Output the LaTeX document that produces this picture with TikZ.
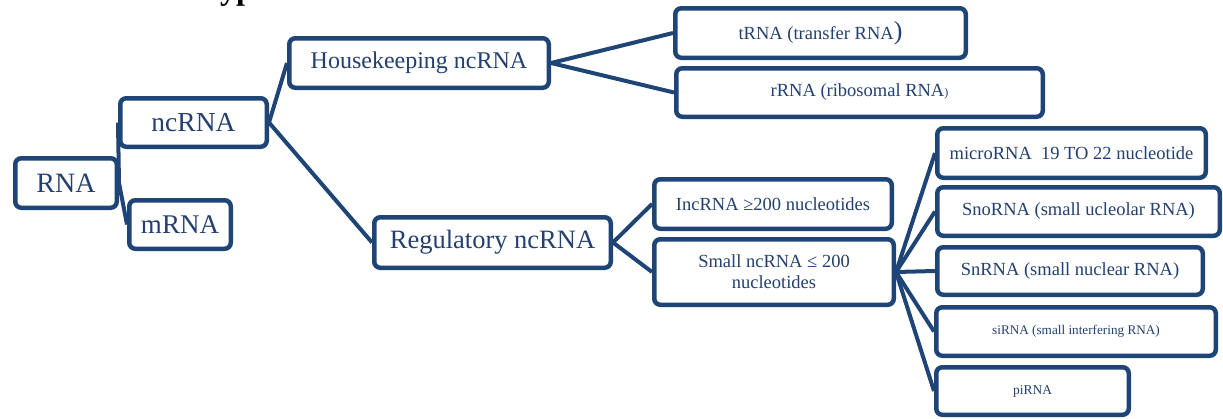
\documentclass[tikz,border=0pt]{standalone}
\usepackage{fontspec}
\setmainfont{Liberation Serif}
\definecolor{bordc}{RGB}{31,69,119}
\definecolor{txtc}{RGB}{35,64,112}
\newcommand{\myfs}[2]{\fontsize{#1}{#2}\selectfont}
\tikzset{
  box/.style={draw=bordc, line width=4.5pt, rounded corners=6pt, text=txtc,
    inner sep=0pt, align=center, fill=white},
  conn/.style={draw=bordc, line width=4pt},
  big/.style={font=\myfs{27.5}{30}},
  mid/.style={font=\myfs{24}{28}},
  sml/.style={font=\myfs{18.5}{21}},
  tiny/.style={font=\myfs{13.5}{16}},
}
\begin{document}
\begin{tikzpicture}[x=1pt,y=-1pt]
\useasboundingbox (0,0) rectangle (1223,418);
\clip (0,0) rectangle (1223,418);
\node[anchor=base west, font=\bfseries\myfs{32}{32}, inner sep=0pt] (title) at (201,-1) {Types};

\node[box, big, font=\myfs{28}{30}, minimum width=101.5, minimum height=49.5] (rna) at (66,183) {RNA};
\node[box, big, minimum width=146.5, minimum height=48.5] (nc) at (193.5,122.5) {ncRNA};
\node[box, big, font=\myfs{27}{30}, minimum width=101.5, minimum height=48.5] (mrna) at (180,224.5) {mRNA};
\node[box, mid, minimum width=259.5, minimum height=49.5] (house) at (419,63) {Housekeeping ncRNA};
\node[box, font=\myfs{26.5}{30}, minimum width=236.5, minimum height=50.5] (reg) at (492.5,242.5) {Regulatory ncRNA};
\node[box, sml, minimum width=290.5, minimum height=49.5] (trna) at (820.5,33) {tRNA (transfer RNA{\myfs{26}{26})}};
\node[box, sml, minimum width=366.5, minimum height=48.5] (rrna) at (859.5,92.5) {rRNA (ribosomal RNA{\myfs{12}{12})}};
\node[box, sml, minimum width=237.5, minimum height=49.5] (lnc) at (773,204) {IncRNA ≥200 nucleotides};
\node[box, sml, minimum width=239.5, minimum height=65.5] (small) at (774,272) {Small ncRNA ≤ 200\\nucleotides};
\node[box, sml, minimum width=268.5, minimum height=49.5] (micro) at (1071.5,153) {microRNA\ \ 19 TO 22 nucleotide};
\node[box, sml, minimum width=282.5, minimum height=48.5] (sno) at (1078.5,211.5) {SnoRNA (small ucleolar RNA)};
\node[box, sml, minimum width=265.5, minimum height=47.5] (sn) at (1070,271) {SnRNA (small nuclear RNA)};
\node[box, tiny, font=\myfs{13.2}{16}, minimum width=279.5, minimum height=48.5] (si) at (1076,331.5) {siRNA (small interfering RNA)};
\node[box, tiny, minimum width=192.5, minimum height=47.5] (pi) at (1032.5,391) {piRNA};

\draw[conn] (rna.east) -- (nc.west);
\draw[conn] (rna.east) -- (mrna.west);
\draw[conn] (nc.east) -- (house.west);
\draw[conn] (nc.east) -- (reg.west);
\draw[conn] (house.east) -- (trna.west);
\draw[conn] (house.east) -- (rrna.west);
\draw[conn] (reg.east) -- (lnc.west);
\draw[conn] (reg.east) -- (small.west);
\foreach \t in {micro,sno,sn,si,pi}
  \draw[conn] (small.east) -- (\t.west);
\end{tikzpicture}
\end{document}
